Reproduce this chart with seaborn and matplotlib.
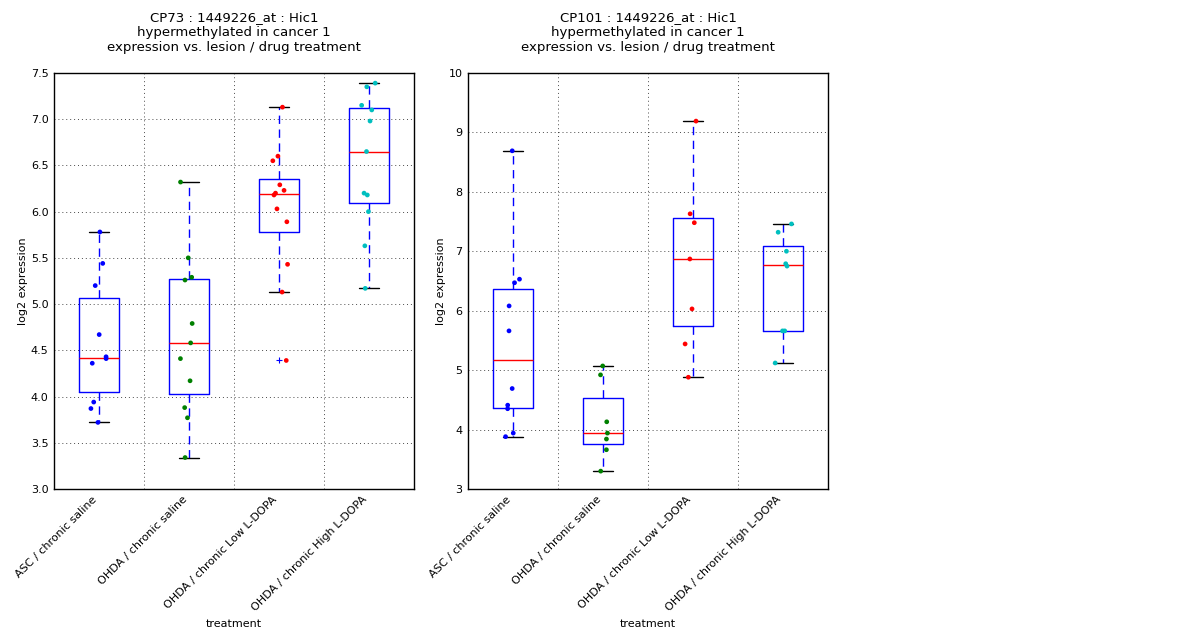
import numpy as np
import pandas as pd
import matplotlib
matplotlib.use("Agg")
import matplotlib.pyplot as plt
import seaborn as sns

treatments = [
    "ASC / chronic saline",
    "OHDA / chronic saline",
    "OHDA / chronic Low L-DOPA",
    "OHDA / chronic High L-DOPA",
]

# CP73 expression per treatment group
cp73_asc_saline = [5.78, 5.44, 5.20, 4.67, 4.43, 4.41, 4.36, 3.94, 3.87, 3.72]
cp73_ohda_saline = [6.32, 5.50, 5.29, 5.26, 4.79, 4.58, 4.41, 4.17, 3.88, 3.77, 3.34]
cp73_ohda_low = [7.13, 6.60, 6.55, 6.29, 6.23, 6.20, 6.18, 6.03, 5.89, 5.43, 5.13, 4.39]
cp73_ohda_high = [7.39, 7.35, 7.15, 7.10, 6.98, 6.65, 6.20, 6.18, 6.00, 5.63, 5.17]

# CP101 expression per treatment group
cp101_asc_saline = [8.69, 6.53, 6.47, 6.08, 5.66, 4.69, 4.41, 4.35, 3.94, 3.88]
cp101_ohda_saline = [5.07, 4.92, 4.13, 3.94, 3.84, 3.66, 3.30]
cp101_ohda_low = [9.19, 7.63, 7.48, 6.87, 6.03, 5.44, 4.88]
cp101_ohda_high = [7.46, 7.32, 7.00, 6.79, 6.75, 5.66, 5.66, 5.12]

point_colors = ["#0000ff", "#008000", "#ff0000", "#00bfbf"]


def make_frame(groups):
    rows = []
    for name, vals in zip(treatments, groups):
        for v in vals:
            rows.append({"treatment": name, "expr": v})
    return pd.DataFrame(rows)


panels = [
    ("CP73", make_frame([cp73_asc_saline, cp73_ohda_saline, cp73_ohda_low, cp73_ohda_high]),
     (3.0, 7.5), np.arange(3.0, 7.51, 0.5), "{:.1f}"),
    ("CP101", make_frame([cp101_asc_saline, cp101_ohda_saline, cp101_ohda_low, cp101_ohda_high]),
     (3, 10), np.arange(3, 11, 1), "{:.0f}"),
]

sns.set_style("white", {"text.color": "black", "axes.labelcolor": "black",
                        "xtick.color": "black", "ytick.color": "black"})
plt.rcParams["font.family"] = ["DejaVu Sans"]

fig = plt.figure(figsize=(12, 6.4), dpi=100)
axes = [fig.add_axes([0.045, 0.236, 0.30, 0.650]),
        fig.add_axes([0.39, 0.236, 0.30, 0.650])]

grid_kw = dict(color="black", linestyle=(0, (1.2, 3.5)), linewidth=0.6, alpha=0.8)

np.random.seed(3)
for ax, (probe, df, ylim, yticks, fmt) in zip(axes, panels):
    sns.boxplot(
        data=df, x="treatment", y="expr", order=treatments, ax=ax,
        width=0.45, whis=1.5, fill=False, color="#0000ff",
        boxprops=dict(color="#0000ff", linewidth=1),
        whiskerprops=dict(color="#0000ff", linewidth=1, linestyle=(0, (6, 4))),
        capprops=dict(color="black", linewidth=1),
        medianprops=dict(color="#ff0000", linewidth=1),
        flierprops=dict(marker="+", markeredgecolor="#0000ff", markersize=5,
                        markeredgewidth=0.8),
    )
    sns.stripplot(
        data=df, x="treatment", y="expr", order=treatments, hue="treatment",
        hue_order=treatments, palette=point_colors, ax=ax, jitter=0.1,
        size=3.4, linewidth=0, legend=False, zorder=5,
    )

    ax.set_xlim(-0.5, 3.5)
    ax.set_ylim(*ylim)
    ax.set_yticks(yticks)
    ax.set_yticklabels([fmt.format(t) for t in yticks], fontsize=8)
    ax.set_xticks(range(4))
    ax.set_xticklabels(treatments, rotation=45, ha="right", fontsize=8)
    ax.set_xticks([0.5, 1.5, 2.5], minor=True)
    ax.tick_params(which="both", length=0, pad=4)
    ax.grid(False)
    ax.yaxis.grid(True, **grid_kw)
    ax.xaxis.grid(True, which="minor", **grid_kw)
    ax.set_axisbelow(True)
    for sp in ax.spines.values():
        sp.set_color("black")
        sp.set_linewidth(1)
    ax.set_xlabel("treatment", fontsize=8)
    ax.set_ylabel("log2 expression", fontsize=8, labelpad=2)
    ax.set_title(f"{probe} : 1449226_at : Hic1\nhypermethylated in cancer 1\n"
                 "expression vs. lesion / drug treatment", fontsize=9.5, pad=16,
                 color="black")

fig.savefig("out.png", dpi=100)
